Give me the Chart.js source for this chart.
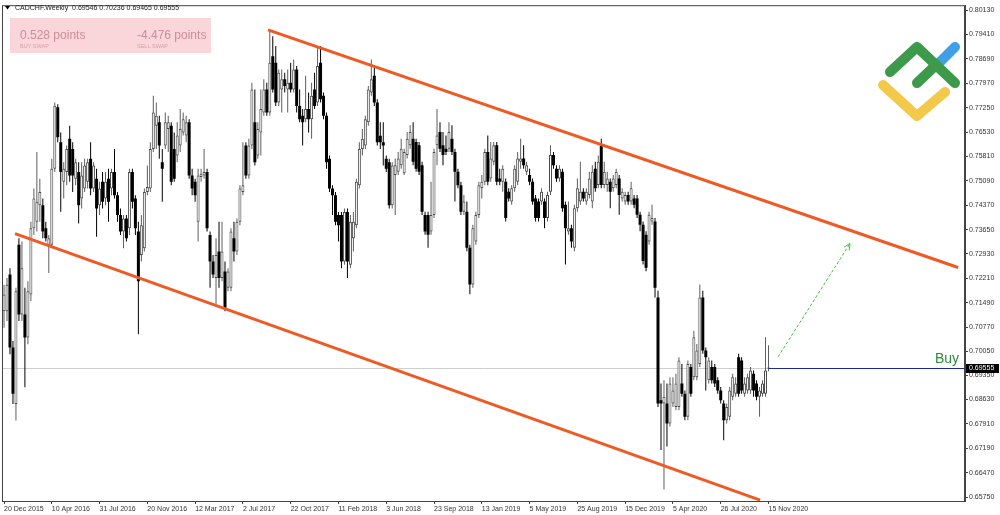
<!DOCTYPE html>
<html>
<head>
<meta charset="utf-8">
<script src="https://cdn.jsdelivr.net/npm/chart.js@4.4.1/dist/chart.umd.min.js"></script>
<style>
html, body { margin: 0; padding: 0; background: #fff; }
</style>
</head>
<body>
<canvas id="chart" width="1000" height="515"></canvas>
<script>
// CADCHF weekly candles, 20 Dec 2015 .. 15 Nov 2020
const opens = [
  0.7124,0.7124,0.7232,0.7017,0.6850,0.7320,0.7114,0.7114,0.7046,0.7173,
  0.7369,0.7388,0.7437,0.7437,0.7369,0.7320,0.7320,0.7545,0.7726,0.7623,
  0.7506,0.7535,0.7633,0.7603,0.7515,0.7535,0.7457,0.7486,0.7506,0.7574,
  0.7486,0.7515,0.7437,0.7506,0.7457,0.7515,0.7486,0.7535,0.7466,0.7408,
  0.7359,0.7398,0.7369,0.7535,0.7457,0.7359,0.7290,0.7310,0.7476,0.7486,
  0.7603,0.7672,0.7682,0.7564,0.7613,0.7662,0.7672,0.7603,0.7584,0.7613,
  0.7652,0.7643,0.7682,0.7525,0.7506,
  0.7388,0.7520,0.7525,0.7535,0.7349,0.7271,0.7222,0.7300,0.7222,0.7241,
  0.7193,0.7193,0.7339,0.7300,0.7388,0.7476,0.7613,0.7525,0.7613,0.7682,
  0.7584,0.7652,0.7711,0.7779,0.7711,0.7877,0.7858,0.7740,0.7779,0.7809,
  0.7779,0.7799,0.7779,0.7838,0.7730,0.7701,0.7691,0.7721,0.7691,0.7779,
  0.7740,0.7858,0.7760,0.7701,0.7574,0.7486,0.7466,0.7408,0.7408,0.7271,
  0.7417,0.7261,0.7339,0.7378,0.7496,0.7603,0.7613,0.7682,0.7770,0.7819,
  0.7740,0.7642,0.7623,0.7574,0.7564,0.7437,
  0.7526,0.7536,0.7555,0.7531,0.7585,0.7614,0.7633,0.7624,0.7614,0.7555,
  0.7408,0.7408,0.7359,0.7408,0.7614,0.7653,0.7614,0.7604,0.7604,0.7633,
  0.7594,0.7536,0.7496,0.7418,0.7418,0.7311,0.7203,0.7330,0.7408,0.7487,
  0.7506,0.7594,0.7516,0.7565,0.7614,0.7516,0.7506,0.7506,0.7477,0.7448,
  0.7487,0.7506,0.7565,0.7575,0.7536,0.7526,0.7506,0.7457,0.7448,0.7448,
  0.7448,0.7399,0.7477,0.7585,0.7545,0.7516,0.7536,0.7438,0.7359,0.7369,
  0.7311,0.7428,0.7448,0.7477,0.7448,
  0.7467,0.7448,0.7545,0.7497,0.7614,0.7497,0.7497,0.7506,0.7487,0.7497,
  0.7516,0.7457,0.7448,0.7467,0.7448,0.7457,0.7457,0.7409,0.7379,0.7350,
  0.7330,0.7389,0.7389,0.7164,0.6861,0.6851,0.6851,0.6792,0.6851,0.6841,
  0.6841,0.6910,0.6880,0.6812,0.6959,0.6929,0.6929,0.6968,0.7164,0.7008,
  0.6920,0.6959,0.6959,0.6920,0.6890,0.6851,0.6802,0.6812,0.6871,0.6880,
  0.6988,0.6978,0.6880,0.6890,0.6890,0.6939,0.6910,0.6871,0.6880,0.6880,
  0.69546
];
const highs = [
  0.7202,0.7222,0.7251,0.7036,0.7193,0.7339,0.7330,0.7193,0.7212,0.7388,
  0.7486,0.7594,0.7515,0.7457,0.7388,0.7349,0.7574,0.7740,0.7735,0.7652,
  0.7564,0.7613,0.7672,0.7623,0.7574,0.7564,0.7564,0.7574,0.7574,0.7623,
  0.7564,0.7545,0.7506,0.7535,0.7535,0.7545,0.7545,0.7603,0.7476,0.7427,
  0.7408,0.7408,0.7545,0.7545,0.7466,0.7388,0.7408,0.7486,0.7554,0.7623,
  0.7760,0.7740,0.7701,0.7603,0.7711,0.7701,0.7682,0.7652,0.7682,0.7721,
  0.7711,0.7701,0.7691,0.7545,0.7515,
  0.7545,0.7545,0.7603,0.7545,0.7359,0.7290,0.7339,0.7388,0.7388,0.7271,
  0.7251,0.7369,0.7388,0.7398,0.7496,0.7623,0.7623,0.7633,0.7799,0.7779,
  0.7682,0.7779,0.7809,0.7799,0.7955,0.7936,0.7907,0.7838,0.7838,0.7828,
  0.7838,0.7858,0.7867,0.7848,0.7779,0.7721,0.7819,0.7770,0.7799,0.7828,
  0.7907,0.7907,0.7770,0.7711,0.7584,0.7496,0.7476,0.7417,0.7417,0.7427,
  0.7427,0.7408,0.7417,0.7515,0.7623,0.7662,0.7701,0.7789,0.7867,0.7848,
  0.7750,0.7682,0.7682,0.7584,0.7574,0.7564,
  0.7575,0.7594,0.7633,0.7604,0.7653,0.7673,0.7682,0.7633,0.7624,0.7565,
  0.7418,0.7418,0.7506,0.7604,0.7721,0.7682,0.7653,0.7643,0.7682,0.7673,
  0.7604,0.7545,0.7506,0.7467,0.7448,0.7320,0.7379,0.7418,0.7506,0.7526,
  0.7604,0.7643,0.7624,0.7624,0.7624,0.7545,0.7555,0.7516,0.7487,0.7496,
  0.7555,0.7594,0.7633,0.7614,0.7565,0.7545,0.7516,0.7467,0.7457,0.7487,
  0.7457,0.7477,0.7614,0.7594,0.7555,0.7555,0.7545,0.7448,0.7448,0.7379,
  0.7438,0.7516,0.7565,0.7487,0.7487,
  0.7536,0.7555,0.7565,0.7584,0.7633,0.7565,0.7536,0.7516,0.7526,0.7545,
  0.7526,0.7487,0.7477,0.7477,0.7506,0.7467,0.7467,0.7418,0.7389,0.7360,
  0.7418,0.7438,0.7399,0.7184,0.6910,0.6920,0.6910,0.6929,0.6929,0.6939,
  0.6988,0.6968,0.6890,0.6978,0.6968,0.7066,0.7027,0.7203,0.7184,0.7017,
  0.6988,0.6978,0.6968,0.6929,0.6900,0.6861,0.6851,0.6900,0.6939,0.6929,
  0.6998,0.6988,0.6929,0.6939,0.6959,0.6949,0.6920,0.6900,0.6920,0.7047,
  0.70236
];
const lows = [
  0.7075,0.7095,0.6997,0.6850,0.6801,0.7095,0.7095,0.6899,0.7026,0.7154,
  0.7349,0.7359,0.7388,0.7339,0.7330,0.7237,0.7310,0.7535,0.7623,0.7418,
  0.7457,0.7496,0.7506,0.7476,0.7496,0.7383,0.7427,0.7476,0.7486,0.7466,
  0.7476,0.7344,0.7408,0.7427,0.7437,0.7388,0.7466,0.7457,0.7388,0.7349,
  0.7310,0.7330,0.7349,0.7427,0.7349,0.7056,0.7271,0.7300,0.7466,0.7476,
  0.7594,0.7603,0.7574,0.7447,0.7603,0.7594,0.7496,0.7506,0.7564,0.7594,
  0.7643,0.7623,0.7515,0.7466,0.7447,
  0.7330,0.7506,0.7515,0.7359,0.7193,0.7222,0.7144,0.7193,0.7212,0.7124,
  0.7183,0.7183,0.7271,0.7290,0.7378,0.7466,0.7515,0.7515,0.7603,0.7554,
  0.7574,0.7584,0.7701,0.7701,0.7701,0.7770,0.7730,0.7730,0.7711,0.7770,
  0.7711,0.7770,0.7770,0.7711,0.7682,0.7613,0.7682,0.7652,0.7633,0.7721,
  0.7730,0.7740,0.7691,0.7545,0.7476,0.7408,0.7378,0.7330,0.7251,0.7261,
  0.7222,0.7251,0.7300,0.7369,0.7486,0.7584,0.7603,0.7672,0.7760,0.7730,
  0.7613,0.7603,0.7554,0.7535,0.7427,0.7427,
  0.7408,0.7526,0.7545,0.7526,0.7575,0.7604,0.7555,0.7536,0.7526,0.7408,
  0.7350,0.7311,0.7350,0.7399,0.7555,0.7594,0.7555,0.7585,0.7594,0.7585,
  0.7448,0.7487,0.7408,0.7408,0.7301,0.7174,0.7193,0.7320,0.7399,0.7457,
  0.7496,0.7496,0.7506,0.7555,0.7496,0.7496,0.7477,0.7389,0.7448,0.7438,
  0.7477,0.7496,0.7545,0.7545,0.7526,0.7496,0.7438,0.7389,0.7389,0.7438,
  0.7369,0.7389,0.7467,0.7545,0.7506,0.7506,0.7418,0.7262,0.7350,0.7311,
  0.7301,0.7418,0.7438,0.7448,0.7438,
  0.7457,0.7428,0.7477,0.7487,0.7487,0.7487,0.7477,0.7428,0.7477,0.7487,
  0.7409,0.7448,0.7438,0.7438,0.7438,0.7428,0.7399,0.7360,0.7262,0.7242,
  0.7320,0.7379,0.7164,0.6841,0.6714,0.6597,0.6724,0.6783,0.6841,0.6831,
  0.6831,0.6871,0.6802,0.6802,0.6871,0.6920,0.6920,0.6959,0.6998,0.6890,
  0.6910,0.6910,0.6900,0.6880,0.6851,0.6743,0.6792,0.6802,0.6861,0.6871,
  0.6871,0.6880,0.6871,0.6880,0.6880,0.6871,0.6861,0.6812,0.6871,0.6871,
  0.69465
];
const closes = [
  0.7173,0.7202,0.7017,0.6880,0.7183,0.7114,0.7251,0.7046,0.7183,0.7369,
  0.7457,0.7447,0.7476,0.7359,0.7339,0.7339,0.7545,0.7731,0.7638,0.7535,
  0.7545,0.7603,0.7525,0.7525,0.7564,0.7437,0.7525,0.7554,0.7564,0.7486,
  0.7554,0.7427,0.7486,0.7447,0.7506,0.7447,0.7535,0.7466,0.7408,0.7359,
  0.7398,0.7339,0.7535,0.7447,0.7369,0.7212,0.7378,0.7476,0.7491,0.7603,
  0.7711,0.7701,0.7613,0.7545,0.7682,0.7682,0.7506,0.7515,0.7643,0.7662,
  0.7691,0.7682,0.7525,0.7486,0.7466,
  0.7525,0.7530,0.7535,0.7369,0.7271,0.7232,0.7290,0.7222,0.7300,0.7134,
  0.7241,0.7359,0.7300,0.7388,0.7486,0.7496,0.7525,0.7613,0.7779,0.7564,
  0.7662,0.7721,0.7779,0.7711,0.7858,0.7779,0.7740,0.7828,0.7809,0.7789,
  0.7799,0.7779,0.7838,0.7730,0.7691,0.7682,0.7721,0.7691,0.7760,0.7730,
  0.7848,0.7750,0.7701,0.7564,0.7486,0.7466,0.7388,0.7378,0.7271,0.7417,
  0.7271,0.7388,0.7388,0.7506,0.7603,0.7633,0.7691,0.7779,0.7809,0.7740,
  0.7623,0.7623,0.7613,0.7545,0.7437,0.7554,
  0.7555,0.7575,0.7604,0.7594,0.7633,0.7653,0.7565,0.7545,0.7536,0.7418,
  0.7359,0.7350,0.7408,0.7594,0.7643,0.7604,0.7585,0.7594,0.7653,0.7594,
  0.7536,0.7496,0.7418,0.7448,0.7311,0.7203,0.7369,0.7408,0.7496,0.7506,
  0.7594,0.7506,0.7575,0.7614,0.7506,0.7506,0.7545,0.7399,0.7457,0.7487,
  0.7545,0.7575,0.7575,0.7555,0.7555,0.7506,0.7448,0.7399,0.7399,0.7477,
  0.7399,0.7467,0.7585,0.7555,0.7516,0.7545,0.7428,0.7369,0.7369,0.7330,
  0.7428,0.7487,0.7477,0.7457,0.7477,
  0.7516,0.7536,0.7487,0.7565,0.7497,0.7536,0.7516,0.7477,0.7516,0.7536,
  0.7467,0.7477,0.7467,0.7448,0.7487,0.7438,0.7409,0.7379,0.7272,0.7252,
  0.7409,0.7399,0.7193,0.6851,0.6851,0.6871,0.6792,0.6910,0.6890,0.6910,
  0.6978,0.6880,0.6812,0.6968,0.6880,0.7047,0.7008,0.7164,0.7008,0.6988,
  0.6978,0.6920,0.6910,0.6890,0.6861,0.6802,0.6841,0.6890,0.6929,0.6910,
  0.6880,0.6890,0.6910,0.6929,0.6949,0.6890,0.6871,0.6890,0.6910,0.6949,
  0.69555
];
// one date label every 16 weeks
const dateTicks = ['20 Dec 2015','10 Apr 2016','31 Jul 2016','20 Nov 2016','12 Mar 2017','2 Jul 2017',
  '22 Oct 2017','11 Feb 2018','3 Jun 2018','23 Sep 2018','13 Jan 2019','5 May 2019','25 Aug 2019',
  '15 Dec 2019','5 Apr 2020','26 Jul 2020','15 Nov 2020'];
const priceTicks = [0.80130,0.79410,0.78690,0.77970,0.77250,0.76530,0.75810,0.75090,0.74370,0.73650,
  0.72930,0.72210,0.71490,0.70770,0.70050,0.69350,0.68630,0.67910,0.67190,0.66470,0.65750];
const lastPrice = 0.69555;
// drawn objects, in [bar index, price]
const upperChannel = [[88.4, 0.7955], [319.5, 0.7253]];
const lowerChannel = [[3.7, 0.7353], [253.2, 0.6566]];
const buyArrow = [[259.2, 0.6989], [283.3, 0.7324]];

const isUp = i => closes[i] >= opens[i];
const bodyData = closes.map((c, i) => ({x: i, y: [opens[i], c]}));
const wickData = closes.map((c, i) => ({x: i, y: [lows[i], highs[i]]}));
const FONT = 'Liberation Sans, Arial, sans-serif';

const overlay = {
  id: 'overlay',
  beforeDatasetsDraw(chart) {
    const {ctx, chartArea: a, scales: {y}} = chart;
    const py = Math.round(y.getPixelForValue(lastPrice)) + 0.5;
    ctx.save();
    ctx.strokeStyle = '#cfcfcf';
    ctx.lineWidth = 1;
    ctx.beginPath(); ctx.moveTo(a.left, py); ctx.lineTo(a.right, py); ctx.stroke();
    ctx.restore();
  },
  afterDatasetsDraw(chart) {
    const {ctx, chartArea: a, scales: {x, y}} = chart;
    const P = p => [x.getPixelForValue(p[0]), y.getPixelForValue(p[1])];
    ctx.save();
    ctx.beginPath(); ctx.rect(a.left, a.top, a.right - a.left, a.bottom - a.top); ctx.clip();
    // channel
    ctx.strokeStyle = '#ee5a24';
    ctx.lineWidth = 3;
    [upperChannel, lowerChannel].forEach(l => {
      const s = P(l[0]), e = P(l[1]);
      ctx.beginPath(); ctx.moveTo(s[0], s[1]); ctx.lineTo(e[0], e[1]); ctx.stroke();
    });
    // buy level
    const py = Math.round(y.getPixelForValue(lastPrice)) + 0.5;
    ctx.strokeStyle = '#1c2a9c';
    ctx.lineWidth = 1;
    ctx.beginPath(); ctx.moveTo(x.getPixelForValue(256), py); ctx.lineTo(a.right, py); ctx.stroke();
    // dashed arrow
    const s = P(buyArrow[0]), e = P(buyArrow[1]);
    ctx.strokeStyle = '#3cc43c';
    ctx.setLineDash([3, 2]);
    ctx.beginPath(); ctx.moveTo(s[0], s[1]); ctx.lineTo(e[0], e[1]); ctx.stroke();
    const ang = Math.atan2(e[1] - s[1], e[0] - s[0]);
    ctx.setLineDash([]);
    ctx.beginPath();
    ctx.moveTo(e[0] - 7 * Math.cos(ang - 0.45), e[1] - 7 * Math.sin(ang - 0.45));
    ctx.lineTo(e[0], e[1]);
    ctx.lineTo(e[0] - 7 * Math.cos(ang + 0.45), e[1] - 7 * Math.sin(ang + 0.45));
    ctx.stroke();
    // Buy label
    ctx.fillStyle = '#2e8b3a';
    ctx.font = '14px ' + FONT;
    ctx.textAlign = 'right';
    ctx.textBaseline = 'alphabetic';
    ctx.fillText('Buy', a.right - 6, py - 6);
    ctx.restore();
  },
  afterDraw(chart) {
    const {ctx, chartArea: a, scales: {y}} = chart;
    ctx.save();
    // frame
    ctx.strokeStyle = '#444';
    ctx.lineWidth = 1;
    ctx.strokeRect(a.left + 0.5, a.top + 0.5, a.right - a.left - 1, a.bottom - a.top);
    // current price tag
    const py = Math.round(y.getPixelForValue(lastPrice));
    ctx.fillStyle = '#000';
    ctx.fillRect(a.right + 1, py - 4, 33, 9);
    ctx.fillStyle = '#fff';
    ctx.font = '7px ' + FONT;
    ctx.textAlign = 'left';
    ctx.textBaseline = 'middle';
    ctx.fillText(lastPrice.toFixed(5), a.right + 4, py + 0.5);
    // header
    ctx.fillStyle = '#000';
    ctx.beginPath(); ctx.moveTo(5, 6); ctx.lineTo(10, 6); ctx.lineTo(7.5, 9.5); ctx.closePath(); ctx.fill();
    ctx.fillStyle = '#222';
    ctx.fillText('CADCHF.Weekly  ' + [opens, highs, lows, closes].map(s => s[s.length - 1].toFixed(5)).join(' '), 15, 8);
    // swap box
    ctx.fillStyle = '#fad5d9';
    ctx.fillRect(10, 18, 201, 35);
    ctx.fillStyle = '#cc8f96';
    ctx.font = '12px ' + FONT;
    ctx.textBaseline = 'alphabetic';
    ctx.fillText('0.528 points', 20, 39);
    ctx.fillText('-4.476 points', 137, 39);
    ctx.fillStyle = '#d9a2a8';
    ctx.font = '5.5px ' + FONT;
    ctx.fillText('BUY SWAP', 20, 48);
    ctx.fillText('SELL SWAP', 137, 48);
    // logo
    ctx.lineCap = 'round';
    ctx.lineJoin = 'round';
    ctx.lineWidth = 10;
    const path = (pts, col) => {
      ctx.strokeStyle = col;
      ctx.beginPath();
      pts.forEach((p, k) => k ? ctx.lineTo(p[0], p[1]) : ctx.moveTo(p[0], p[1]));
      ctx.stroke();
    };
    path([[883, 85], [917, 116], [945, 92]], '#f3c94a');
    path([[938, 64], [955, 47]], '#3fa0e6');
    path([[890, 72], [917, 47], [955, 83]], '#3c9a4a');
    path([[917, 83], [936, 65]], '#3c9a4a');
    ctx.restore();
  }
};

new Chart(document.getElementById('chart'), {
  type: 'bar',
  data: {
    datasets: [
      {
        data: bodyData,
        order: 0,
        grouped: false,
        barThickness: 3,
        minBarLength: 1,
        inflateAmount: 0,
        borderSkipped: false,
        borderWidth: ctx => isUp(ctx.dataIndex) ? 1 : 0,
        borderColor: '#4a4a4a',
        backgroundColor: ctx => isUp(ctx.dataIndex) ? '#ffffff' : '#000000'
      },
      {
        data: wickData,
        order: 1,
        grouped: false,
        barThickness: 1,
        inflateAmount: 0,
        borderWidth: 0,
        backgroundColor: ctx => isUp(ctx.dataIndex) ? '#5e5e5e' : '#000000'
      }
    ]
  },
  options: {
    responsive: false,
    animation: false,
    layout: {padding: {left: 2, top: 2, right: 0, bottom: 0}},
    plugins: {legend: {display: false}, tooltip: {enabled: false}},
    scales: {
      x: {
        type: 'linear',
        min: -0.67,
        max: 321.8,
        offset: false,
        afterBuildTicks: s => { s.ticks = dateTicks.map((d, k) => ({value: k * 16})); },
        afterFit: s => { s.height = 14; },
        border: {display: true, color: '#444'},
        grid: {offset: false, drawOnChartArea: false, tickLength: 3, color: '#444'},
        ticks: {
          autoSkip: false, maxRotation: 0, align: 'start', padding: 1,
          color: '#333', font: {family: FONT, size: 7},
          callback: v => dateTicks[Math.round(v / 16)] || ''
        }
      },
      y: {
        position: 'right',
        min: 0.65633,
        max: 0.80277,
        afterBuildTicks: s => { s.ticks = priceTicks.map(v => ({value: v})); },
        afterFit: s => { s.width = 35; },
        border: {display: true, color: '#444'},
        grid: {drawOnChartArea: false, tickLength: 3, color: '#444'},
        ticks: {padding: 1, color: '#333', font: {family: FONT, size: 7}, callback: v => v.toFixed(5)}
      }
    }
  },
  plugins: [overlay]
});
</script>
</body>
</html>
